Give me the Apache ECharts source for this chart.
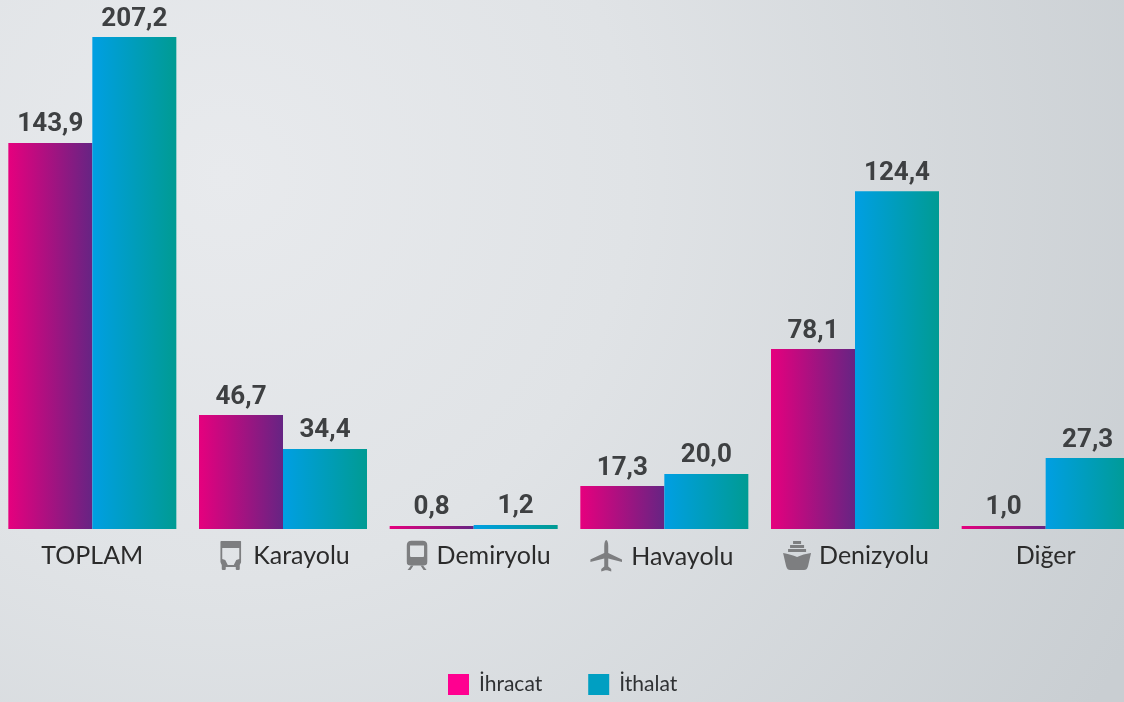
<!DOCTYPE html>
<html><head><meta charset="utf-8">
<script src="https://cdn.jsdelivr.net/npm/echarts@6/dist/echarts.min.js"></script>
<style>html,body{margin:0;padding:0;overflow:hidden}#c{width:1124px;height:702px}</style>
</head><body><div id="c"></div>
<script>
const categories = ['TOPLAM','Karayolu','Demiryolu','Havayolu','Denizyolu','Diğer'];
const categoryIcons = ['', 'bus', 'train', 'plane', 'ship', ''];
const seriesNames = ['İhracat','İthalat'];
// Printed values, exactly as labelled in the reference.
const ihracatLabels = ['143,9','46,7','0,8','17,3','78,1','1,0'];
const ithalatLabels = ['207,2','34,4','1,2','20,0','124,4','27,3'];
// The reference's bars are not proportional to their printed values, so the
// drawn lengths are read separately from the picture (scale: tallest bar = 207.2).
const ihracatDrawn = [162.6,48.0,1.3,18.1,75.8,1.3];
const ithalatDrawn = [207.2,33.7,1.7,23.2,142.3,29.9];

const svg = (w,h,body) => 'data:image/svg+xml;charset=utf-8,' + encodeURIComponent(
  '<svg xmlns="http://www.w3.org/2000/svg" viewBox="0 0 '+w+' '+h+'" width="'+w*3+'" height="'+h*3+'"><g fill="#7d7e80">' + body + '</g></svg>');
const icons = {
  bus: svg(21,29,'<path fill-rule="evenodd" d="M1 0h19a1 1 0 0 1 1 1v20l-1.500 3v4a1 1 0 0 1-1 1h-2a1 1 0 0 1-1-1v-2H5.500v2a1 1 0 0 1-1 1h-2a1 1 0 0 1-1-1v-4L0 21V1a1 1 0 0 1 1-1zM2 7v11l3 1 2.500 5h6l2.500-5 3-1V7z"/>'),
  train: svg(21,30,'<path fill-rule="evenodd" d="M6 0h9c4 0 6 2 6 6v15c0 3-2 4-4 4H4c-2 0-4-1-4-4V6c0-4 2-6 6-6zM3.500 5v10c0 1 .5 1.500 1.500 1.500h11c1 0 1.500-.5 1.500-1.500V5z"/><path d="M4.500 25h2.500l-3 4.500H1zM14 25h2.500l3.500 4.500h-3z"/>'),
  plane: svg(32,33,'<path d="M16 0c1 0 2 2.500 2 6v7l14 6.500v2.500l-14-3.500v8l3 2.500v2.500l-4-1.200h-2l-4 1.200V29l3-2.500v-8L0 22v-2.500L14 13V6c0-3.500 1-6 2-6z"/>'),
  ship: svg(28,29,'<path d="M10 0h8v3h-8zM7 4h14v3H7zM5 8h18v3H5z"/><path d="M0 12c5 1 10 2 14 4 4-2 9-3 14-4l-3 13c-1 3-2 4-4 4H7c-2 0-3-1-4-4z"/>')
};
const textStyle = { fontFamily: 'Lato', fontSize: 25, color: '#2b2b2b', lineHeight: 31 };
const withGap = g => Object.assign({ padding: [0,0,0,g] }, textStyle);
const rich = {
  name: textStyle,
  tbus: withGap(12), ttrain: withGap(9), tplane: withGap(9), tship: withGap(8),
  bus: { backgroundColor: { image: icons.bus }, width: 21, height: 29 },
  train: { backgroundColor: { image: icons.train }, width: 21, height: 30 },
  plane: { backgroundColor: { image: icons.plane }, width: 32, height: 33 },
  ship: { backgroundColor: { image: icons.ship }, width: 28, height: 29 },
  // invisible spacers: the reference's labels sit slightly off the category centre
  sbus: { width: 4 }, strain: { width: 10 }, splane: { width: 5 }, sship: { width: 2 }
};

const grad = (a,b) => new echarts.graphic.LinearGradient(0,0,1,0,[{offset:0,color:a},{offset:1,color:b}]);
const barSeries = (name, data, labels, colors) => ({
  name, type: 'bar', data, barWidth: 84, barGap: 0,
  itemStyle: { color: grad(colors[0], colors[1]) },
  label: { show: true, position: 'top', distance: 5, fontFamily: 'Roboto', fontWeight: 'bold',
    fontSize: 26, color: '#3e4042', formatter: p => labels[p.dataIndex] }
});

const chart = echarts.init(document.getElementById('c'));
chart.setOption({
  animation: false,
  backgroundColor: new echarts.graphic.RadialGradient(0.2,0.25,1.45,[
    {offset:0,color:'#e8eaed'},{offset:0.4,color:'#e0e3e6'},{offset:1,color:'#c9ced2'}]),
  grid: { left: -3, width: 1144, top: 0, height: 529, containLabel: false, outerBoundsMode: 'none' },
  xAxis: { type: 'category', data: categories, axisLine:{show:false}, axisTick:{show:false},
    axisLabel: { interval: 0, margin: 11, formatter: (v,i) => {
      const ic = categoryIcons[i];
      if (!ic) return '{name|' + v + '}';
      const main = '{' + ic + '|}{t' + ic + '|' + v + '}';
      const sp = '{s' + ic + '|}';
      return ic === 'plane' ? main + sp : sp + main;
    }, rich } },
  yAxis: { type: 'value', min: 0, max: 222.8, show: false },
  legend: { left: 448, top: 674, padding: 0, itemWidth: 21, itemHeight: 21, itemGap: 46, icon: 'rect',
    textStyle: { fontFamily: 'Lato', fontSize: 21, color: '#2f3133', padding:[2,0,0,5] },
    data: [{name:seriesNames[0], itemStyle:{color:'#ff0090'}},{name:seriesNames[1], itemStyle:{color:'#009fc2'}}] },
  series: [
    barSeries(seriesNames[0], ihracatDrawn, ihracatLabels, ['#e6007e','#662483']),
    barSeries(seriesNames[1], ithalatDrawn, ithalatLabels, ['#009fe3','#009b93'])
  ]
});
</script></body></html>
